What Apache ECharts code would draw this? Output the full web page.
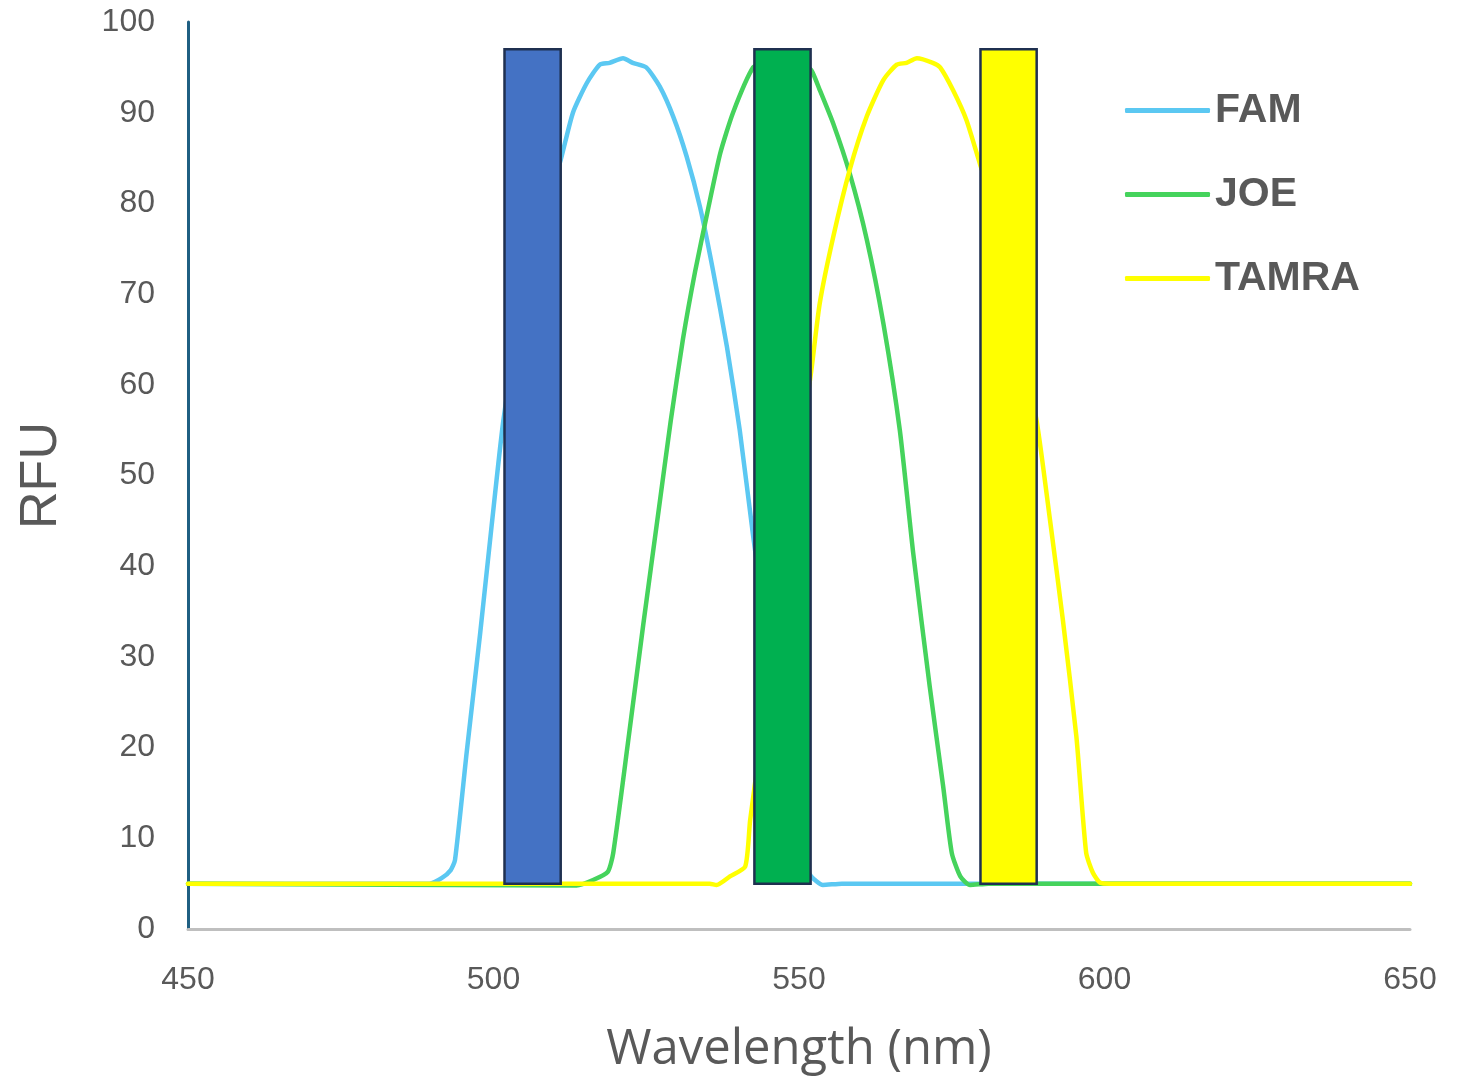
<!DOCTYPE html>
<html>
<head>
<meta charset="utf-8">
<title>FAM / JOE / TAMRA spectra</title>
<script src="https://cdn.jsdelivr.net/npm/echarts@6/dist/echarts.min.js"></script>
<style>
  html, body { margin: 0; padding: 0; background: #fff; }
  #chart { width: 1471px; height: 1076px; }
</style>
</head>
<body>
<div id="chart"></div>
<script>
'use strict';

//emission curves: [wavelength nm, RFU]
var fam = [
  [450, 5], [489.5, 5], [491.5, 5.6], [493, 6.5], [493.7, 7.6], [495.6, 19.4],
  [497.8, 32.5], [499.7, 44.5], [501.6, 56], [504, 66], [507, 75.5], [509, 80.5],
  [511, 84.8], [513, 90], [515.3, 93.3], [517.4, 95.3], [519, 95.5],
  [521.2, 96], [522.8, 95.5], [525, 95], [527.2, 92.9], [529.4, 89.6],
  [531.6, 85.2], [533.8, 79.6], [535.9, 72.7], [538.2, 64.2], [540.3, 55],
  [542.5, 43.3], [545, 31], [547.5, 19], [549.5, 10.5], [551, 7],
  [552, 5.8], [553.9, 4.85], [557, 5], [650, 5]
];

var joe = [
  [450, 5], [513.6, 4.8], [516.3, 5.4], [518.7, 6.3], [519.6, 8.4],
  [522, 20.5], [524.5, 33.5], [527, 46], [529, 56], [531, 65],
  [533, 72.5], [535, 79], [537.1, 85.5], [539.2, 90], [542.5, 95],
  [544.5, 95.5], [546.5, 96], [548.5, 95.6], [550.5, 95.2], [552, 94.7],
  [553.4, 92.5], [555.6, 88.8], [558.3, 83.3], [561.1, 76], [563.8, 66.8],
  [566.5, 55], [568.7, 41.4], [571.4, 26.7], [573.6, 15.7], [575, 8.4],
  [576.4, 5.8], [578, 4.85], [581, 5], [650, 5]
];

var tamra = [
  [450, 5], [535.4, 5], [536.5, 4.85], [538.7, 5.8], [541.2, 6.9], [542, 12],
  [544, 22], [546, 32], [548, 42], [550, 52], [552, 61.5], [553.4, 69],
  [555.6, 76.3], [558.3, 83.7], [561.1, 89.6], [563.8, 93.6], [566, 95.3],
  [567.6, 95.5], [569.3, 96], [571.9, 95.5], [573.1, 95], [575.2, 92.5],
  [577.4, 89.2], [579.6, 84.4], [581.9, 79.6], [584, 72.7], [586.3, 64.2],
  [588.9, 56], [591.1, 45], [593.2, 34], [595.4, 21.2], [597, 8.4],
  [598.1, 6.2], [599.3, 5.1], [601, 5], [650, 5]
];

//filter bands: [start nm, end nm, bottom RFU, top RFU]
var filterBands = [
  [501.8, 511, 5, 97],
  [542.7, 551.9, 5, 97],
  [579.7, 588.9, 5, 97]
];
var filterColors = ['#4472C4', '#00B050', '#FFFF00'];

var seriesNames = ['FAM', 'JOE', 'TAMRA'];
var seriesColors = ['#5BC8F2', '#45D35C', '#FFFF00'];
var seriesData = [fam, joe, tamra];

var chart = echarts.init(document.getElementById('chart'));

var lineSeries = seriesNames.map(function(name, i) {
  return {
    name: name,
    type: 'line',
    data: seriesData[i],
    smooth: 0.2,
    showSymbol: false,
    z: 2,
    lineStyle: { color: seriesColors[i], width: 4.5, cap: 'round', join: 'round' },
    itemStyle: { color: seriesColors[i] }
  };
});

//the filter rectangles sit on top of the curves
var bandSeries = {
  name: 'filters',
  type: 'custom',
  z: 5,
  data: filterBands,
  encode: { x: [0, 1], y: [2, 3] },
  renderItem: function(params, api) {
    var p0 = api.coord([api.value(0), api.value(3)]);
    var p1 = api.coord([api.value(1), api.value(2)]);
    return {
      type: 'rect',
      shape: { x: p0[0], y: p0[1], width: p1[0] - p0[0], height: p1[1] - p0[1] },
      style: {
        fill: filterColors[params.dataIndex],
        stroke: '#1F3050',
        lineWidth: 2.5
      }
    };
  }
};

var option = {
  animation: false,
  backgroundColor: '#ffffff',
  grid: { left: 188, right: 61, top: 22, bottom: 147, outerBoundsMode: 'none' },
  legend: {
    data: seriesNames,
    orient: 'vertical',
    left: 1120,
    top: 83,
    icon: 'roundRect',
    itemWidth: 85,
    itemHeight: 5,
    itemGap: 39,
    textStyle: {
      color: '#595959',
      fontFamily: 'Liberation Sans',
      fontWeight: 'bold',
      fontSize: 41,
      lineHeight: 45
    }
  },
  xAxis: {
    type: 'value',
    min: 450,
    max: 650,
    interval: 50,
    name: 'Wavelength (nm)',
    nameLocation: 'middle',
    nameGap: 97,
    nameTextStyle: { color: '#595959', fontFamily: 'Open Sans', fontSize: 49 },
    axisLine: { show: true, lineStyle: { color: '#BFBFBF', width: 3 } },
    axisTick: { show: false },
    splitLine: { show: false },
    axisLabel: { color: '#595959', fontFamily: 'Liberation Sans', fontSize: 32, margin: 35 }
  },
  yAxis: {
    type: 'value',
    min: 0,
    max: 100,
    interval: 10,
    name: 'RFU',
    nameLocation: 'middle',
    nameRotate: 90,
    nameGap: 120,
    nameTextStyle: { color: '#595959', fontFamily: 'Liberation Sans', fontSize: 52 },
    axisLine: { show: true, lineStyle: { color: '#1F5F82', width: 3 } },
    axisTick: { show: false },
    splitLine: { show: false },
    axisLabel: { color: '#595959', fontFamily: 'Liberation Sans', fontSize: 32, margin: 33 }
  },
  series: lineSeries.concat([bandSeries])
};

chart.setOption(option);
</script>
</body>
</html>
